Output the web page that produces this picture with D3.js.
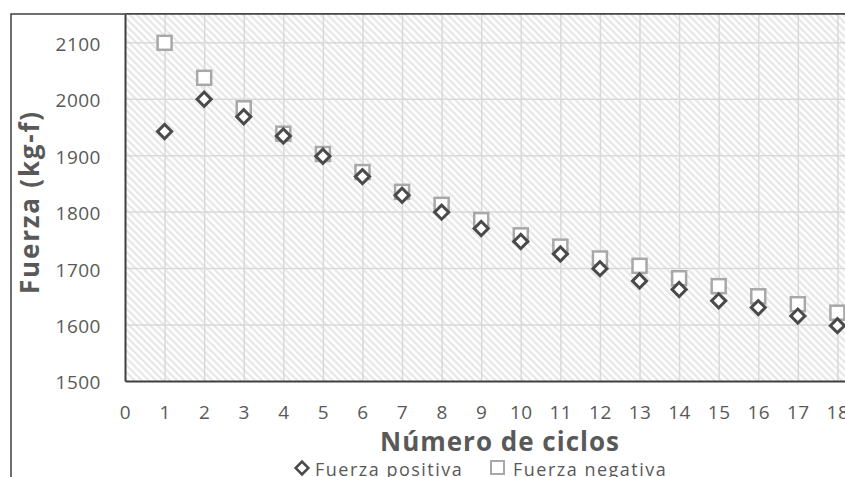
<!DOCTYPE html>
<html>
<head>
<meta charset="utf-8">
<script src="https://cdn.jsdelivr.net/npm/d3@7"></script>
<style>
  html, body { margin: 0; padding: 0; background: #fff; overflow: hidden; }
  svg { display: block; }
</style>
</head>
<body>
<script>
// ---- data ----
const cycles = [1, 2, 3, 4, 5, 6, 7, 8, 9, 10, 11, 12, 13, 14, 15, 16, 17, 18];
const fuerzaPositiva = [1942, 1999, 1968, 1934, 1898, 1862, 1829, 1799, 1770, 1747, 1725, 1699, 1677, 1662, 1642, 1630, 1615, 1598];
const fuerzaNegativa = [2099, 2037, 1983, 1938, 1902, 1870, 1835, 1812, 1785, 1758, 1738, 1717, 1704, 1682, 1668, 1650, 1636, 1621];
const xTicks = [0, 1, 2, 3, 4, 5, 6, 7, 8, 9, 10, 11, 12, 13, 14, 15, 16, 17, 18, 19];
const yTicks = [1500, 1600, 1700, 1800, 1900, 2000, 2100];
const xTitle = "Número de ciclos";
const yTitle = "Fuerza (kg-f)";
const seriesNames = ["Fuerza positiva", "Fuerza negativa"];

// ---- layout ----
const W = 845, H = 477;
const plot = { left: 125, top: 14, right: 877, bottom: 381 };
const FONT = "'Open Sans', 'Liberation Sans', sans-serif";
const txtColor = "#595959";

const svg = d3.select("body").append("svg").attr("width", W).attr("height", H);

const defs = svg.append("defs");
const pat = defs.append("pattern")
  .attr("id", "hatch").attr("patternUnits", "userSpaceOnUse")
  .attr("width", 5).attr("height", 5)
  .attr("patternTransform", "rotate(-45)");
pat.append("rect").attr("width", 5).attr("height", 5).attr("fill", "#ffffff");
pat.append("line").attr("x1", 1.25).attr("y1", 0).attr("x2", 1.25).attr("y2", 5)
  .attr("stroke", "#e6e6e6").attr("stroke-width", 2.2);

const x = d3.scaleLinear().domain([0, 19]).range([plot.left, plot.right]);
const y = d3.scaleLinear().domain([1500, 2150]).range([plot.bottom, plot.top]);

// outer chart border
svg.append("rect").attr("x", 11).attr("y", 14).attr("width", 1000).attr("height", 600)
  .attr("fill", "none").attr("stroke", "#3f3f3f").attr("stroke-width", 1.5);

// plot background
svg.append("rect").attr("x", plot.left).attr("y", plot.top)
  .attr("width", plot.right - plot.left).attr("height", plot.bottom - plot.top)
  .attr("fill", "url(#hatch)");

// gridlines
const gx = svg.append("g")
  .attr("transform", `translate(0,${plot.bottom})`)
  .call(d3.axisBottom(x).tickValues(xTicks.slice(1)).tickSize(-(plot.bottom - plot.top)).tickFormat(""));
gx.select(".domain").remove();
gx.selectAll(".tick line").attr("stroke", "#d9d9d9").attr("stroke-width", 1.5);

const gy = svg.append("g")
  .attr("transform", `translate(${plot.left},0)`)
  .call(d3.axisLeft(y).tickValues(yTicks.slice(1)).tickSize(-(plot.right - plot.left)).tickFormat(""));
gy.select(".domain").remove();
gy.selectAll(".tick line").attr("stroke", "#d9d9d9").attr("stroke-width", 1.5);

// axes with labels
const ax = svg.append("g")
  .attr("transform", `translate(0,${plot.bottom})`)
  .call(d3.axisBottom(x).tickValues(xTicks).tickSize(0).tickPadding(25).tickFormat(d3.format("d")));
ax.select(".domain").attr("stroke", "#3f3f3f").attr("stroke-width", 2);
ax.selectAll("text").attr("font-family", FONT).attr("font-size", 19)
  .attr("letter-spacing", 0.5).attr("fill", txtColor);

const ay = svg.append("g")
  .attr("transform", `translate(${plot.left},0)`)
  .call(d3.axisLeft(y).tickValues(yTicks).tickSize(0).tickPadding(24).tickFormat(d3.format("d")));
ay.select(".domain").attr("stroke", "#3f3f3f").attr("stroke-width", 2);
ay.selectAll("text").attr("font-family", FONT).attr("font-size", 19)
  .attr("letter-spacing", 0.5).attr("fill", txtColor).attr("dy", "0.42em");

// top border of plot (shares chart border)
svg.append("line").attr("x1", plot.left).attr("x2", W).attr("y1", plot.top).attr("y2", plot.top)
  .attr("stroke", "#3f3f3f").attr("stroke-width", 1.5);

// markers
const sq = 14, dia = 10;
const negData = cycles.map((c, i) => ({ c, v: fuerzaNegativa[i] }));
const posData = cycles.map((c, i) => ({ c, v: fuerzaPositiva[i] }));

svg.append("g").selectAll("rect").data(negData).join("rect")
  .attr("x", d => x(d.c) - sq / 2).attr("y", d => y(d.v) - sq / 2)
  .attr("width", sq).attr("height", sq)
  .attr("fill", "#ffffff").attr("stroke", "#a8a8a8").attr("stroke-width", 2.5);

svg.append("g").selectAll("rect").data(posData).join("rect")
  .attr("x", -dia / 2).attr("y", -dia / 2).attr("width", dia).attr("height", dia)
  .attr("transform", d => `translate(${x(d.c)},${y(d.v)}) rotate(45)`)
  .attr("fill", "#ffffff").attr("stroke", "#4a4a4a").attr("stroke-width", 3);

// axis titles
svg.append("text").attr("x", 500).attr("y", 451).attr("text-anchor", "middle")
  .attr("font-family", FONT).attr("font-weight", "bold").attr("font-size", 26)
  .attr("letter-spacing", 1).attr("fill", txtColor).text(xTitle);

svg.append("text").attr("transform", "translate(39,202) rotate(-90)").attr("text-anchor", "middle")
  .attr("font-family", FONT).attr("font-weight", "bold").attr("font-size", 26)
  .attr("letter-spacing", 1.8).attr("fill", txtColor).text(yTitle);

// legend
const lg = svg.append("g");
lg.append("rect").attr("x", -4.5).attr("y", -4.5).attr("width", 9).attr("height", 9)
  .attr("transform", "translate(302,468) rotate(45)")
  .attr("fill", "#fff").attr("stroke", "#4a4a4a").attr("stroke-width", 2.5);
lg.append("text").attr("x", 315).attr("y", 476).attr("font-family", FONT).attr("font-size", 18)
  .attr("letter-spacing", 1.5).attr("fill", txtColor).text(seriesNames[0]);
lg.append("rect").attr("x", 491).attr("y", 461).attr("width", 13).attr("height", 13)
  .attr("fill", "#fff").attr("stroke", "#a8a8a8").attr("stroke-width", 2);
lg.append("text").attr("x", 513).attr("y", 476).attr("font-family", FONT).attr("font-size", 18)
  .attr("letter-spacing", 1.5).attr("fill", txtColor).text(seriesNames[1]);
</script>
</body>
</html>
